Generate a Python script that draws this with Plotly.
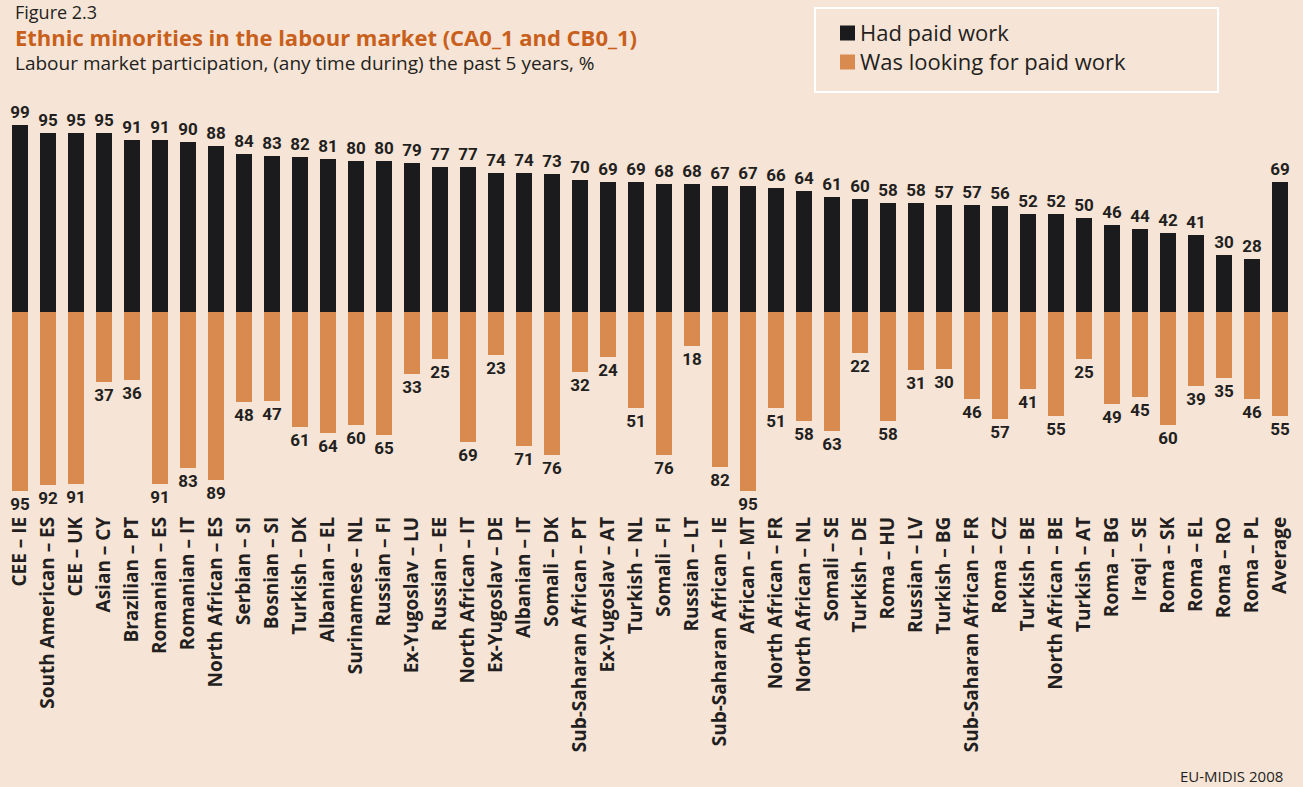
import plotly.graph_objects as go

categories = ["CEE – IE", "South American – ES", "CEE – UK", "Asian – CY", "Brazilian – PT",
              "Romanian – ES", "Romanian – IT", "North African – ES", "Serbian – SI", "Bosnian – SI",
              "Turkish – DK", "Albanian – EL", "Surinamese – NL", "Russian – FI", "Ex-Yugoslav – LU",
              "Russian – EE", "North African – IT", "Ex-Yugoslav – DE", "Albanian – IT", "Somali – DK",
              "Sub-Saharan African – PT", "Ex-Yugoslav – AT", "Turkish – NL", "Somali – FI", "Russian – LT",
              "Sub-Saharan African – IE", "African – MT", "North African – FR", "North African – NL",
              "Somali – SE", "Turkish – DE", "Roma – HU", "Russian – LV", "Turkish – BG",
              "Sub-Saharan African – FR", "Roma – CZ", "Turkish – BE", "North African – BE",
              "Turkish – AT", "Roma – BG", "Iraqi – SE", "Roma – SK", "Roma – EL", "Roma – RO",
              "Roma – PL", "Average"]

had_paid_work = [99, 95, 95, 95, 91, 91, 90, 88, 84, 83, 82, 81, 80, 80, 79, 77, 77, 74, 74, 73,
                 70, 69, 69, 68, 68, 67, 67, 66, 64, 61, 60, 58, 58, 57, 57, 56, 52, 52, 50, 46,
                 44, 42, 41, 30, 28, 69]

looking_for_work = [95, 92, 91, 37, 36, 91, 83, 89, 48, 47, 61, 64, 60, 65, 33, 25, 69, 23, 71, 76,
                    32, 24, 51, 76, 18, 82, 95, 51, 58, 63, 22, 58, 31, 30, 46, 57, 41, 55, 25, 49,
                    45, 60, 39, 35, 46, 55]

series_names = ["Had paid work", "Was looking for paid work"]

BG = "#f6e4d6"
BLACK = "#1b1a1c"
ORANGE = "#d98b4f"
TITLE_ORANGE = "#c8601c"
TEXT = "#231f20"
FONT = "Open Sans, Liberation Sans, sans-serif"
NARROW = "Roboto, Liberation Sans, sans-serif"

x = list(range(len(categories)))

fig = go.Figure()
fig.add_trace(go.Bar(
    x=x, y=had_paid_work, name=series_names[0],
    marker=dict(color=BLACK, line=dict(width=0)),
    width=0.58,
    text=[str(v) for v in had_paid_work], textposition="outside", constraintext="none",
    textfont=dict(family=NARROW, size=17, color=TEXT, weight="bold"),
    cliponaxis=False,
))
fig.add_trace(go.Bar(
    x=x, y=[-v for v in looking_for_work], name=series_names[1],
    marker=dict(color=ORANGE, line=dict(width=0)),
    width=0.58,
    text=[str(v) for v in looking_for_work], textposition="outside", constraintext="none",
    textfont=dict(family=NARROW, size=17, color=TEXT, weight="bold"),
    cliponaxis=False,
))

W, H = 1303, 787
top, bottom = 100, 512
plot_h = bottom - top
zero_px = 312
ppu = 1.885
y_hi = (zero_px - top) / ppu
y_lo = -(bottom - zero_px) / ppu

spacing = 28.0
first_center = 20.0
x_lo = -first_center / spacing
x_hi = x_lo + W / spacing


def py(p):
    return (bottom - p) / plot_h


def px(p):
    return p / W


fig.update_layout(
    width=W, height=H,
    margin=dict(l=0, r=0, t=top, b=H - bottom, pad=0),
    paper_bgcolor=BG, plot_bgcolor=BG,
    barmode="relative",
    bargap=0,
    xaxis=dict(range=[x_lo, x_hi], tickmode="array", tickvals=x, ticktext=categories,
               tickangle=-90, showgrid=False, zeroline=False, showline=False, ticks="",
               tickfont=dict(family=FONT, size=19, color=TEXT, weight="bold")),
    yaxis=dict(range=[y_lo, y_hi], showgrid=False, zeroline=False, showline=False,
               showticklabels=False, ticks=""),
    showlegend=False,
    font=dict(family=FONT),
)

# legend box
fig.add_shape(type="rect", xref="paper", yref="paper",
              x0=px(815), x1=px(1218), y0=py(92), y1=py(8),
              line=dict(color="white", width=2), fillcolor="rgba(0,0,0,0)", layer="below")
for i, (name, col) in enumerate(zip(series_names, [BLACK, ORANGE])):
    cy = 33 + 29 * i
    fig.add_shape(type="rect", xref="paper", yref="paper",
                  x0=px(840), x1=px(855), y0=py(cy + 7.5), y1=py(cy - 7.5),
                  line=dict(width=0), fillcolor=col)
    fig.add_annotation(text=name, xref="paper", yref="paper", x=px(858), y=py(cy - 1),
                       xanchor="left", yanchor="middle", showarrow=False,
                       font=dict(family=FONT, size=22, color=TEXT))

fig.add_annotation(text="Figure 2.3", xref="paper", yref="paper", x=px(13), y=py(-2),
                   xanchor="left", yanchor="top", showarrow=False,
                   font=dict(family=FONT, size=18, color=TEXT))
fig.add_annotation(text="<b>Ethnic minorities in the labour market (CA0_1 and CB0_1)</b>",
                   xref="paper", yref="paper", x=px(13), y=py(20),
                   xanchor="left", yanchor="top", showarrow=False,
                   font=dict(family=FONT, size=22, color=TITLE_ORANGE))
fig.add_annotation(text="Labour market participation, (any time during) the past 5 years, %",
                   xref="paper", yref="paper", x=px(13), y=py(48),
                   xanchor="left", yanchor="top", showarrow=False,
                   font=dict(family=FONT, size=19, color=TEXT))
fig.add_annotation(text="EU-MIDIS 2008", xref="paper", yref="paper", x=px(1285), y=py(788),
                   xanchor="right", yanchor="bottom", showarrow=False,
                   font=dict(family=FONT, size=15, color=TEXT))

fig.write_html("out.html")
